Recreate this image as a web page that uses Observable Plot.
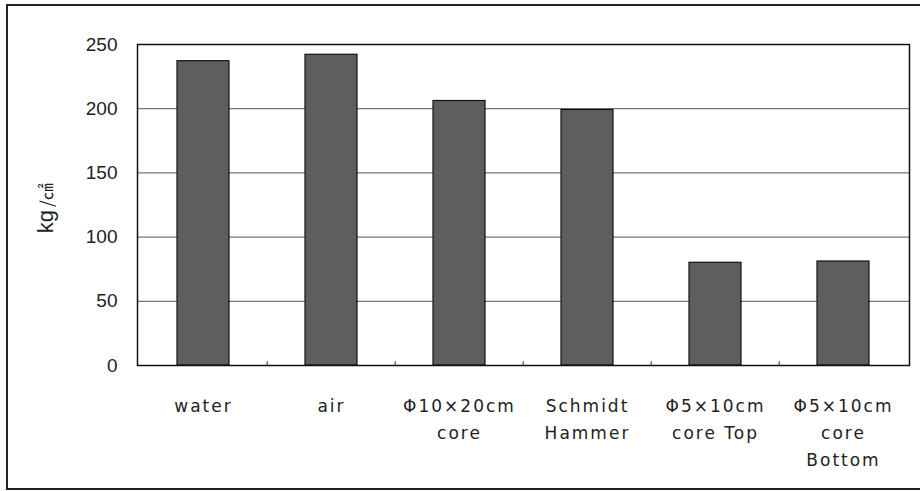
<!DOCTYPE html>
<html>
<head>
<meta charset="utf-8">
<script src="https://cdn.jsdelivr.net/npm/d3@7"></script>
<script src="https://cdn.jsdelivr.net/npm/@observablehq/plot@0.6"></script>
<style>
  html, body { margin: 0; padding: 0; background: #fff; }
  #wrap { position: relative; width: 920px; height: 491px; overflow: hidden; }
  #border { position: absolute; left: 6px; top: 4px; width: 930px; height: 486px;
            border: 2px solid #222; box-sizing: border-box; pointer-events: none; }
  g[aria-label="x-axis tick label"] text { letter-spacing: 2px; }
</style>
</head>
<body>
<div id="wrap"><div id="border"></div></div>
<script>
const categories = ["water", "air", "Φ10×20cm\ncore", "Schmidt\nHammer", "Φ5×10cm\ncore Top", "Φ5×10cm\ncore\nBottom"];
const values = [237, 242, 206, 199, 80, 81];
const yTicks = [0, 50, 100, 150, 200, 250];
const gridTicks = [50, 100, 150, 200];

const data = categories.map((c, i) => ({category: c, value: values[i]}));

const W = 920, H = 491, ML = 137, MR = 11, MT = 44, MB = 126;
const step = (W - ML - MR) / categories.length;

const chart = Plot.plot({
  width: W,
  height: H,
  marginLeft: ML,
  marginRight: MR,
  marginTop: MT,
  marginBottom: MB,
  style: {background: "transparent", color: "#222"},
  x: {domain: categories, paddingInner: 0.59, paddingOuter: 0.295, label: null},
  y: {domain: [0, 250], label: null},
  marks: [
    Plot.ruleY(gridTicks, {stroke: "#555", strokeWidth: 1}),
    Plot.barY(data, {x: "category", y: "value", fill: "#5e5e5e", stroke: "#111", strokeWidth: 1.2}),
    Plot.ruleX(categories.slice(1), {x: d => d, dx: -step / 2, y1: 0, y2: 3, stroke: "#333"}),
    Plot.frame({stroke: "#111", strokeWidth: 1.5}),
    Plot.axisY(yTicks, {tickSize: 0, tickPadding: 20, fontSize: 19, fontFamily: "Liberation Sans", fill: "#222", label: null}),
    Plot.axisX({tickSize: 0, tickPadding: 27, fontSize: 17, fontFamily: "DejaVu Sans", lineHeight: 1.6, fill: "#222", label: null, textAnchor: "middle"}),
    Plot.text(["kg"], {frameAnchor: "left", dx: -92, dy: 5, rotate: -90, textAnchor: "end", lineAnchor: "middle", fontSize: 22, fontFamily: "Liberation Sans", fill: "#222"}),
    Plot.text(["/㎠"], {frameAnchor: "left", dx: -90, dy: 2, rotate: -90, textAnchor: "start", lineAnchor: "middle", fontSize: 17, fontFamily: "Noto Sans CJK KR", fill: "#222"})
  ]
});
document.getElementById("wrap").prepend(chart);
</script>
</body>
</html>
